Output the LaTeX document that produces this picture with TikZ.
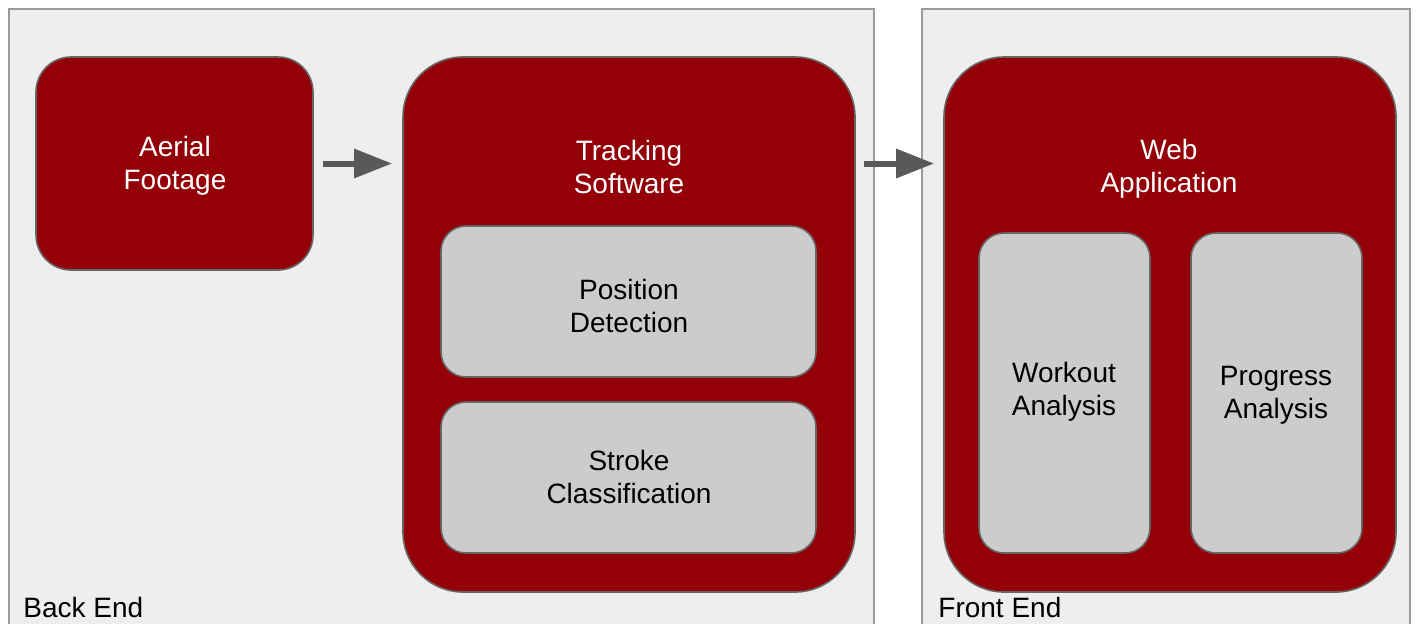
\documentclass[tikz,border=0pt]{standalone}
\usepackage{fontspec}
\setmainfont{Liberation Sans}
\usetikzlibrary{arrows.meta}
\definecolor{panelgray}{HTML}{EEEEEE}
\definecolor{panelline}{HTML}{9A9A9A}
\definecolor{boxred}{HTML}{930008}
\definecolor{boxline}{HTML}{666666}
\definecolor{innergray}{HTML}{CCCCCC}
\definecolor{arrowgray}{HTML}{595959}
\tikzset{
  panel/.style={draw=panelline, fill=panelgray, line width=1pt},
  redbox/.style={draw=boxline, fill=boxred, line width=0.8pt, inner sep=0pt},
  graybox/.style={draw=boxline, fill=innergray, line width=0.8pt, rounded corners=12.5pt, inner sep=0pt},
  whitetxt/.style={text=white, align=center, font=\fontsize{14}{16.5}\selectfont},
  blacktxt/.style={text=black, align=center, font=\fontsize{14}{16.5}\selectfont},
  paneltxt/.style={text=black, anchor=base west, inner sep=0pt, font=\fontsize{14}{16}\selectfont},
  flow/.style={draw=arrowgray, line width=3pt, -{Triangle[length=19pt,width=14pt]}},
}
\begin{document}
\begin{tikzpicture}[x=0.5pt,y=-0.5pt]
\useasboundingbox (0,0) rectangle (1418,623);
\fill[white] (0,0) rectangle (1418,623);
% panels
\draw[panel] (9,9) rectangle (874,640);
\draw[panel] (922,9) rectangle (1410,640);
\node[paneltxt] (backlbl) at (23,617) {Back End};
\node[paneltxt] (frontlbl) at (938,617) {Front End};
% back end boxes
\node[redbox, rounded corners=17.5pt, minimum width=138.5pt, minimum height=106.5pt] (aerial) at (174.5,163.5) {};
\node[whitetxt] (aeriallbl) at (175,166) {Aerial\\Footage};
\node[redbox, rounded corners=30pt, minimum width=226pt, minimum height=267.5pt] (tracking) at (629,324.5) {};
\node[whitetxt] (trackinglbl) at (629,167) {Tracking\\Software};
\node[graybox, minimum width=187.5pt, minimum height=75.5pt] (position) at (628.5,301.5) {};
\node[blacktxt] (positionlbl) at (629,306) {Position\\Detection};
\node[graybox, minimum width=187.5pt, minimum height=75.5pt] (stroke) at (628.5,477.5) {};
\node[blacktxt] (strokelbl) at (629,477) {Stroke\\Classification};
% front end boxes
\node[redbox, rounded corners=30pt, minimum width=226pt, minimum height=267.5pt] (web) at (1170,324.5) {};
\node[whitetxt] (weblbl) at (1169,169) {Web\\Application};
\node[graybox, minimum width=85.5pt, minimum height=160pt] (workout) at (1064.5,393) {};
\node[blacktxt] (workoutlbl) at (1064,392) {Workout\\Analysis};
\node[graybox, minimum width=85.5pt, minimum height=160pt] (progress) at (1276.5,393) {};
\node[blacktxt] (progresslbl) at (1276,395) {Progress\\Analysis};
% arrows
\draw[flow, shorten <=4.5pt, shorten >=5pt] (aerial.east) -- (aerial.east -| tracking.west);
\draw[flow, shorten <=4pt, shorten >=4.5pt] (tracking.east |- aerial.east) -- (aerial.east -| web.west);
\end{tikzpicture}
\end{document}
